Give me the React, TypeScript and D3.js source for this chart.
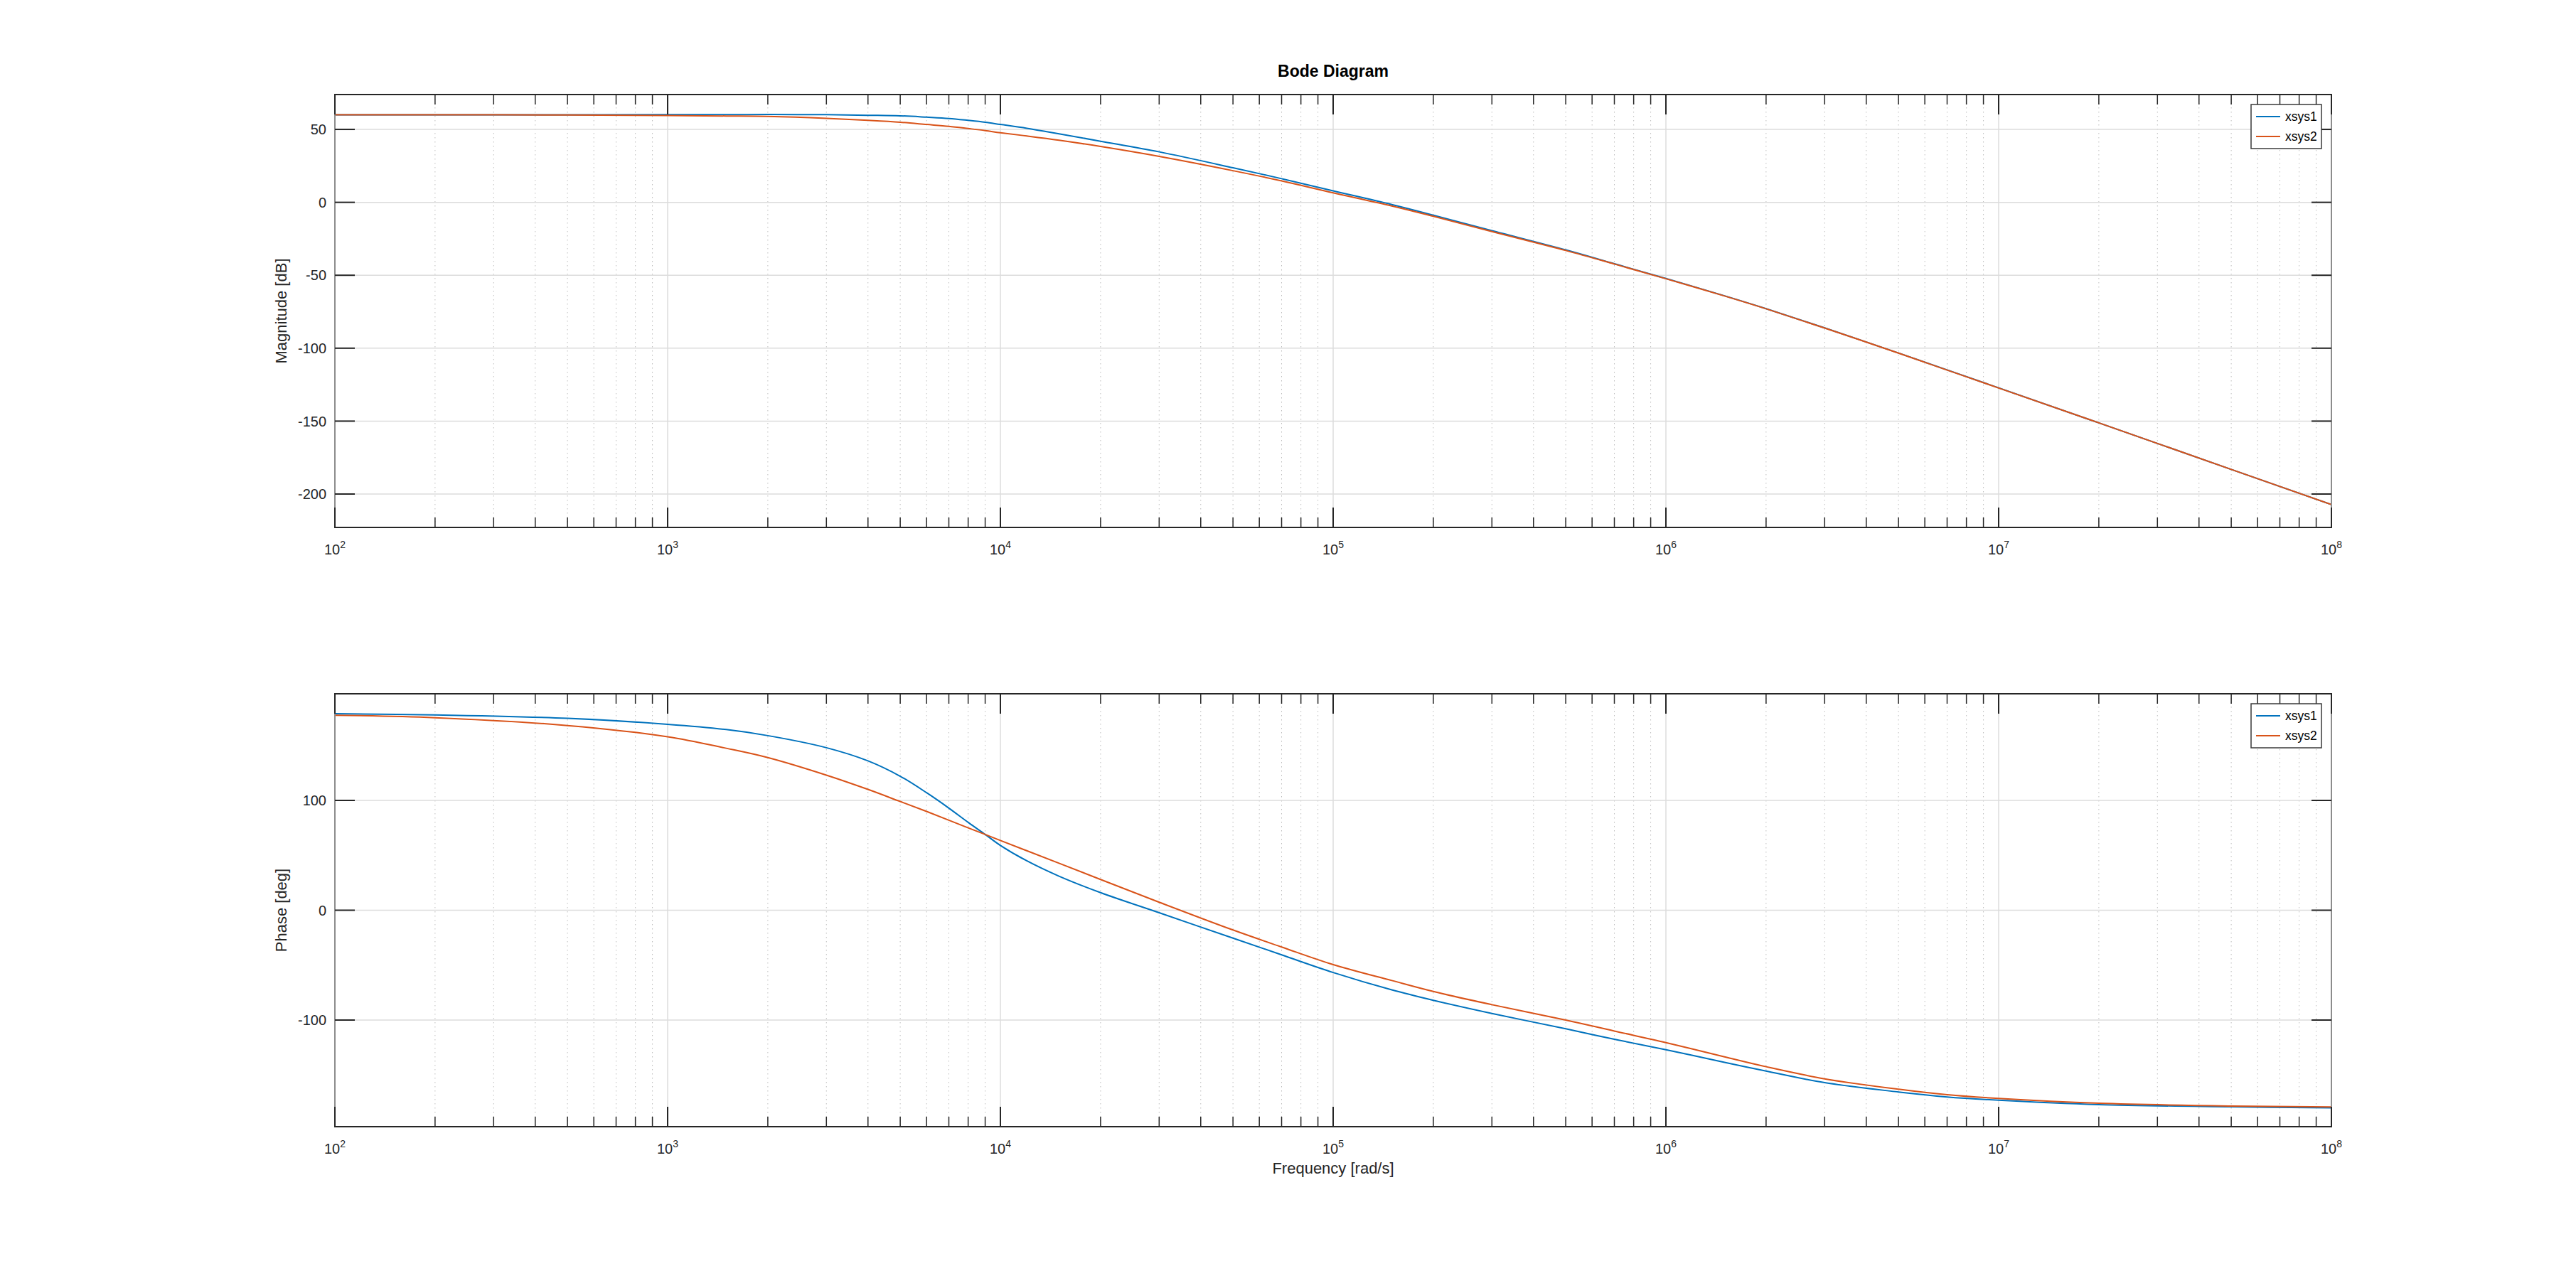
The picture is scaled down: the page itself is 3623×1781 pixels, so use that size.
import * as d3 from 'd3'

// frequencies (rad/s) the curves were read at
const freqs = [
  1e2, 2e2, 5e2, 1e3, 1.5e3, 2e3, 3e3, 4e3, 5e3, 6e3, 7e3, 8e3, 9e3,
  1e4, 1.2e4, 1.5e4, 2e4, 3e4, 5e4, 7e4,
  1e5, 1.5e5, 2e5, 3e5, 5e5, 7e5,
  1e6, 1.5e6, 2e6, 3e6, 5e6, 7e6,
  1e7, 2e7, 5e7, 1e8,
]

// magnitude [dB]
const magXsys1 = [
  60.0, 60.0, 60.0, 60.1, 60.15, 60.2, 60.1, 59.7, 59.3, 58.4, 57.5, 56.2, 54.9,
  53.4, 50.8, 47.0, 41.9, 34.6, 23.7, 16.2,
  7.9, -1.5, -8.8, -19.4, -32.6, -42.1,
  -52.2, -64.1, -72.9, -86.1, -103.3, -114.9,
  -127.2, -151.2, -183.1, -207.2,
]
const magXsys2 = [
  60.0, 60.0, 59.9, 59.5, 59.2, 58.9, 57.6, 56.2, 54.9, 53.4, 52.1, 50.6, 49.2,
  47.7, 45.5, 42.6, 38.3, 31.5, 21.7, 14.7,
  6.5, -2.5, -9.6, -20.0, -33.0, -42.3,
  -52.4, -64.2, -73.0, -86.2, -103.4, -115.0,
  -127.3, -151.2, -183.1, -207.2,
]

// phase [deg]
const phaseXsys1 = [
  178.9, 177.9, 174.7, 169.3, 164.5, 159, 148, 136, 122, 107, 93, 80, 69,
  59, 45, 31, 16, -2.3, -25.4, -40.6,
  -56.7, -72.5, -82, -94, -108, -117.5,
  -127, -138.5, -146.5, -157, -165.5, -170,
  -173, -177, -179, -180,
]
const phaseXsys2 = [
  177.6, 175.3, 168.2, 158, 147.5, 139, 123, 110, 99, 90, 82, 75, 69,
  63.5, 54.2, 42.8, 28, 7.3, -18, -33.5,
  -49.5, -64, -74, -86, -100, -110,
  -120.5, -133.5, -142.5, -153.5, -163, -168,
  -171.4, -175.8, -178.3, -179.1,
]

const seriesNames = ['xsys1', 'xsys2']
const seriesColors = ['#0072bd', '#d95319']

const magTicks = [-200, -150, -100, -50, 0, 50]
const phaseTicks = [-100, 0, 100]
const magLimits: [number, number] = [-222.9, 73.9]
const phaseLimits: [number, number] = [-197.1, 197.1]
const freqLimits: [number, number] = [1e2, 1e8]

const W = 3623
const H = 1781
const PLOT_LEFT = 471
const PLOT_RIGHT = 3279
const FONT = '"Liberation Sans", Arial, Helvetica, sans-serif'
const AXIS_COLOR = '#262626'

interface PanelProps {
  top: number
  bottom: number
  domain: [number, number]
  ticks: number[]
  values: number[][]
  label: string
  id: string
}

const Panel = ({ top, bottom, domain, ticks, values, label, id }: PanelProps) => {
  const x = d3.scaleLog().domain(freqLimits).range([PLOT_LEFT, PLOT_RIGHT])
  const y = d3.scaleLinear().domain(domain).range([bottom, top])
  const allTicks = x.ticks()
  const isMajor = (t: number) => Math.abs(Math.log10(t) - Math.round(Math.log10(t))) < 1e-9
  const majors = allTicks.filter(isMajor)
  const minors = allTicks.filter(t => !isMajor(t))

  const line = d3.line<number>()
    .x((_, i) => x(freqs[i]))
    .y(d => y(d))
    .curve(d3.curveCatmullRom.alpha(0.5))

  const legX = 3166
  const legY = top + 14

  return (
    <g>
      <defs>
        <clipPath id={id}>
          <rect x={PLOT_LEFT} y={top} width={PLOT_RIGHT - PLOT_LEFT} height={bottom - top} />
        </clipPath>
      </defs>
      {/* grid */}
      {minors.map(t => (
        <line key={'mg' + t} x1={x(t)} x2={x(t)} y1={top} y2={bottom}
          stroke="#bdbdbd" strokeWidth={1} strokeDasharray="1.5,4.5" />
      ))}
      {majors.map(t => (
        <line key={'Mg' + t} x1={x(t)} x2={x(t)} y1={top} y2={bottom} stroke="#dcdcdc" strokeWidth={1.5} />
      ))}
      {ticks.map(t => (
        <line key={'yg' + t} x1={PLOT_LEFT} x2={PLOT_RIGHT} y1={y(t)} y2={y(t)} stroke="#dcdcdc" strokeWidth={1.5} />
      ))}

      {/* curves */}
      <g clipPath={`url(#${id})`}>
        {values.map((v, i) => (
          <path key={i} d={line(v) as string} fill="none" stroke={seriesColors[i]} strokeWidth={2} />
        ))}
      </g>

      {/* box */}
      <line x1={PLOT_LEFT} x2={PLOT_LEFT} y1={top} y2={bottom} stroke="#8c8c8c" strokeWidth={2} />
      <line x1={PLOT_RIGHT} x2={PLOT_RIGHT} y1={top} y2={bottom} stroke="#8c8c8c" strokeWidth={2} />
      <line x1={PLOT_LEFT - 1} x2={PLOT_RIGHT + 1} y1={top} y2={top} stroke={AXIS_COLOR} strokeWidth={2} />
      <line x1={PLOT_LEFT - 1} x2={PLOT_RIGHT + 1} y1={bottom} y2={bottom} stroke={AXIS_COLOR} strokeWidth={2} />

      {/* x ticks */}
      {minors.map(t => (
        <g key={'mt' + t}>
          <line x1={x(t)} x2={x(t)} y1={top} y2={top + 14} stroke={AXIS_COLOR} strokeWidth={1.5} />
          <line x1={x(t)} x2={x(t)} y1={bottom} y2={bottom - 14} stroke={AXIS_COLOR} strokeWidth={1.5} />
        </g>
      ))}
      {majors.map(t => (
        <g key={'Mt' + t}>
          <line x1={x(t)} x2={x(t)} y1={top} y2={top + 28} stroke={AXIS_COLOR} strokeWidth={2} />
          <line x1={x(t)} x2={x(t)} y1={bottom} y2={bottom - 28} stroke={AXIS_COLOR} strokeWidth={2} />
          <text x={x(t)} y={bottom + 38} textAnchor="middle" fontSize={20} fill={AXIS_COLOR} fontFamily={FONT}>
            10<tspan fontSize={14} dy={-9}>{Math.round(Math.log10(t))}</tspan>
          </text>
        </g>
      ))}

      {/* y ticks */}
      {ticks.map(t => (
        <g key={'yt' + t}>
          <line x1={PLOT_LEFT} x2={PLOT_LEFT + 28} y1={y(t)} y2={y(t)} stroke={AXIS_COLOR} strokeWidth={2} />
          <line x1={PLOT_RIGHT} x2={PLOT_RIGHT - 28} y1={y(t)} y2={y(t)} stroke={AXIS_COLOR} strokeWidth={2} />
          <text x={PLOT_LEFT - 12} y={y(t)} dy="0.36em" textAnchor="end" fontSize={20} fill={AXIS_COLOR} fontFamily={FONT}>
            {t}
          </text>
        </g>
      ))}

      <text transform={`translate(403, ${(top + bottom) / 2}) rotate(-90)`} textAnchor="middle"
        fontSize={22} fill={AXIS_COLOR} fontFamily={FONT}>
        {label}
      </text>

      {/* legend */}
      <rect x={legX} y={legY} width={99} height={62} fill="white" stroke="#3a3a3a" strokeWidth={1.5} />
      {seriesNames.map((name, i) => (
        <g key={name}>
          <line x1={legX + 7} x2={legX + 41} y1={legY + 17 + i * 28} y2={legY + 17 + i * 28}
            stroke={seriesColors[i]} strokeWidth={2} />
          <text x={legX + 48} y={legY + 17 + i * 28} dy="0.35em" fontSize={17.5} fill="#000" fontFamily={FONT}>
            {name}
          </text>
        </g>
      ))}
    </g>
  )
}

export default function App() {
  return (
    <svg width={W} height={H} style={{ position: 'absolute', left: 0, top: 0, background: 'white' }}>
      <rect width={W} height={H} fill="white" />
      <text x={(PLOT_LEFT + PLOT_RIGHT) / 2} y={108} textAnchor="middle" fontSize={23} fontWeight="bold"
        fill="#000" fontFamily={FONT}>
        Bode Diagram
      </text>
      <Panel id="clipMag" top={133} bottom={742} domain={magLimits} ticks={magTicks}
        values={[magXsys1, magXsys2]} label="Magnitude [dB]" />
      <Panel id="clipPhase" top={976} bottom={1585} domain={phaseLimits} ticks={phaseTicks}
        values={[phaseXsys1, phaseXsys2]} label="Phase [deg]" />
      <text x={(PLOT_LEFT + PLOT_RIGHT) / 2} y={1651} textAnchor="middle" fontSize={22} fill={AXIS_COLOR} fontFamily={FONT}>
        Frequency [rad/s]
      </text>
    </svg>
  )
}
